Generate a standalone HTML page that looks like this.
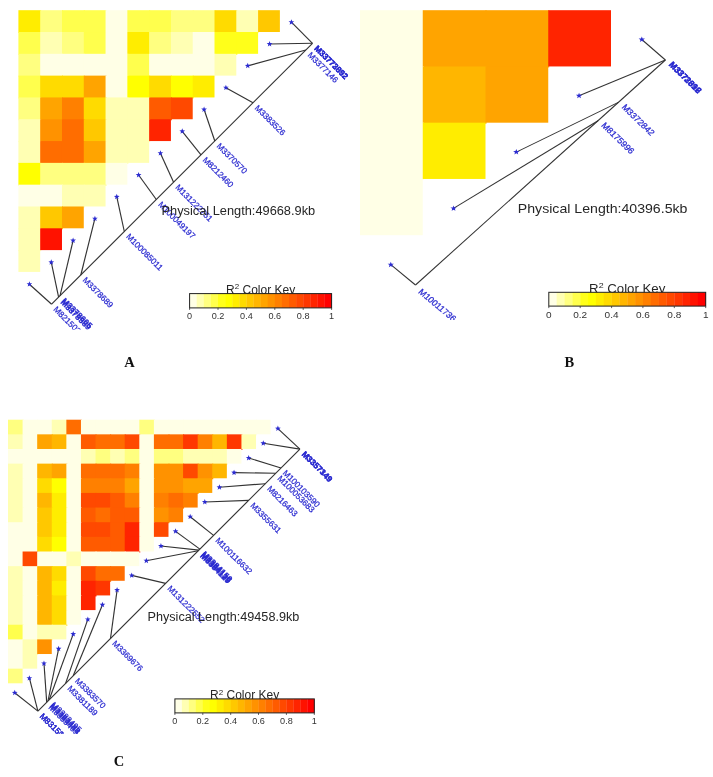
<!DOCTYPE html>
<html><head><meta charset="utf-8"><title>LD heatmaps</title>
<style>
html,body{margin:0;padding:0;background:#fff;}
body{width:713px;height:777px;overflow:hidden;}
svg{display:block;font-family:"Liberation Sans",sans-serif;}
</style></head><body>
<svg width="713" height="777" viewBox="0 0 713 777">
<defs>
<clipPath id="clipA"><rect x="0" y="0" width="356" height="329.5"/></clipPath>
<clipPath id="clipB"><rect x="356" y="0" width="357" height="320"/></clipPath>
<clipPath id="clipC"><rect x="0" y="400" width="356" height="334"/></clipPath>
</defs>
<rect width="713" height="777" fill="#fff"/>
<g>
<g><rect x="18.40" y="10.20" width="22.79" height="22.81" fill="#FFED00"/>
<rect x="40.19" y="10.20" width="22.79" height="22.81" fill="#FFFF80"/>
<rect x="61.98" y="10.20" width="22.79" height="22.81" fill="#FFFF4D"/>
<rect x="83.77" y="10.20" width="22.79" height="22.81" fill="#FFFF4D"/>
<rect x="105.56" y="10.20" width="22.79" height="22.81" fill="#FFFFE6"/>
<rect x="127.35" y="10.20" width="22.79" height="22.81" fill="#FFFF4D"/>
<rect x="149.14" y="10.20" width="22.79" height="22.81" fill="#FFFF4D"/>
<rect x="170.93" y="10.20" width="22.79" height="22.81" fill="#FFFF80"/>
<rect x="192.72" y="10.20" width="22.79" height="22.81" fill="#FFFF80"/>
<rect x="214.51" y="10.20" width="22.79" height="22.81" fill="#FFDB00"/>
<rect x="236.30" y="10.20" width="22.79" height="22.81" fill="#FFFFB3"/>
<rect x="258.09" y="10.20" width="21.79" height="21.81" fill="#FFC800"/>
<rect x="18.40" y="32.01" width="22.79" height="22.81" fill="#FFFF4D"/>
<rect x="40.19" y="32.01" width="22.79" height="22.81" fill="#FFFFB3"/>
<rect x="61.98" y="32.01" width="22.79" height="22.81" fill="#FFFF80"/>
<rect x="83.77" y="32.01" width="22.79" height="22.81" fill="#FFFF4D"/>
<rect x="105.56" y="32.01" width="22.79" height="22.81" fill="#FFFFE6"/>
<rect x="127.35" y="32.01" width="22.79" height="22.81" fill="#FFED00"/>
<rect x="149.14" y="32.01" width="22.79" height="22.81" fill="#FFFF80"/>
<rect x="170.93" y="32.01" width="22.79" height="22.81" fill="#FFFFB3"/>
<rect x="192.72" y="32.01" width="22.79" height="22.81" fill="#FFFFE6"/>
<rect x="214.51" y="32.01" width="22.79" height="22.81" fill="#FFFF1A"/>
<rect x="236.30" y="32.01" width="21.79" height="21.81" fill="#FFFF1A"/>
<rect x="18.40" y="53.82" width="22.79" height="22.81" fill="#FFFF80"/>
<rect x="40.19" y="53.82" width="22.79" height="22.81" fill="#FFFFE6"/>
<rect x="61.98" y="53.82" width="22.79" height="22.81" fill="#FFFFE6"/>
<rect x="83.77" y="53.82" width="22.79" height="22.81" fill="#FFFFE6"/>
<rect x="105.56" y="53.82" width="22.79" height="22.81" fill="#FFFFE6"/>
<rect x="127.35" y="53.82" width="22.79" height="22.81" fill="#FFFF4D"/>
<rect x="149.14" y="53.82" width="22.79" height="22.81" fill="#FFFFE6"/>
<rect x="170.93" y="53.82" width="22.79" height="22.81" fill="#FFFFE6"/>
<rect x="192.72" y="53.82" width="22.79" height="22.81" fill="#FFFFE6"/>
<rect x="214.51" y="53.82" width="21.79" height="21.81" fill="#FFFFB3"/>
<rect x="18.40" y="75.63" width="22.79" height="22.81" fill="#FFFF4D"/>
<rect x="40.19" y="75.63" width="22.79" height="22.81" fill="#FFDB00"/>
<rect x="61.98" y="75.63" width="22.79" height="22.81" fill="#FFDB00"/>
<rect x="83.77" y="75.63" width="22.79" height="22.81" fill="#FFA400"/>
<rect x="105.56" y="75.63" width="22.79" height="22.81" fill="#FFFFE6"/>
<rect x="127.35" y="75.63" width="22.79" height="22.81" fill="#FFFF00"/>
<rect x="149.14" y="75.63" width="22.79" height="22.81" fill="#FFDB00"/>
<rect x="170.93" y="75.63" width="22.79" height="22.81" fill="#FFFF00"/>
<rect x="192.72" y="75.63" width="21.79" height="21.81" fill="#FFED00"/>
<rect x="18.40" y="97.44" width="22.79" height="22.81" fill="#FFFF80"/>
<rect x="40.19" y="97.44" width="22.79" height="22.81" fill="#FFA400"/>
<rect x="61.98" y="97.44" width="22.79" height="22.81" fill="#FF8000"/>
<rect x="83.77" y="97.44" width="22.79" height="22.81" fill="#FFDB00"/>
<rect x="105.56" y="97.44" width="22.79" height="22.81" fill="#FFFFB3"/>
<rect x="127.35" y="97.44" width="22.79" height="22.81" fill="#FFFFB3"/>
<rect x="149.14" y="97.44" width="22.79" height="22.81" fill="#FF5B00"/>
<rect x="170.93" y="97.44" width="21.79" height="21.81" fill="#FF4900"/>
<rect x="18.40" y="119.25" width="22.79" height="22.81" fill="#FFFFB3"/>
<rect x="40.19" y="119.25" width="22.79" height="22.81" fill="#FF9200"/>
<rect x="61.98" y="119.25" width="22.79" height="22.81" fill="#FF6D00"/>
<rect x="83.77" y="119.25" width="22.79" height="22.81" fill="#FFC800"/>
<rect x="105.56" y="119.25" width="22.79" height="22.81" fill="#FFFFB3"/>
<rect x="127.35" y="119.25" width="22.79" height="22.81" fill="#FFFFB3"/>
<rect x="149.14" y="119.25" width="21.79" height="21.81" fill="#FF2400"/>
<rect x="18.40" y="141.06" width="22.79" height="22.81" fill="#FFFFB3"/>
<rect x="40.19" y="141.06" width="22.79" height="22.81" fill="#FF6D00"/>
<rect x="61.98" y="141.06" width="22.79" height="22.81" fill="#FF6D00"/>
<rect x="83.77" y="141.06" width="22.79" height="22.81" fill="#FFA400"/>
<rect x="105.56" y="141.06" width="22.79" height="22.81" fill="#FFFFB3"/>
<rect x="127.35" y="141.06" width="21.79" height="21.81" fill="#FFFFB3"/>
<rect x="18.40" y="162.87" width="22.79" height="22.81" fill="#FFFF00"/>
<rect x="40.19" y="162.87" width="22.79" height="22.81" fill="#FFFF80"/>
<rect x="61.98" y="162.87" width="22.79" height="22.81" fill="#FFFF80"/>
<rect x="83.77" y="162.87" width="22.79" height="22.81" fill="#FFFF80"/>
<rect x="105.56" y="162.87" width="21.79" height="21.81" fill="#FFFFE6"/>
<rect x="18.40" y="184.68" width="22.79" height="22.81" fill="#FFFFE6"/>
<rect x="40.19" y="184.68" width="22.79" height="22.81" fill="#FFFFE6"/>
<rect x="61.98" y="184.68" width="22.79" height="22.81" fill="#FFFFB3"/>
<rect x="83.77" y="184.68" width="21.79" height="21.81" fill="#FFFFB3"/>
<rect x="18.40" y="206.49" width="22.79" height="22.81" fill="#FFFFB3"/>
<rect x="40.19" y="206.49" width="22.79" height="22.81" fill="#FFC800"/>
<rect x="61.98" y="206.49" width="21.79" height="21.81" fill="#FFA400"/>
<rect x="18.40" y="228.30" width="22.79" height="22.81" fill="#FFFFB3"/>
<rect x="40.19" y="228.30" width="21.79" height="21.81" fill="#FF1200"/>
<rect x="18.40" y="250.11" width="21.79" height="21.81" fill="#FFFFB3"/></g>
</g>
<g clip-path="url(#clipA)">
<line x1="51.6" y1="304.2" x2="312.5" y2="43.3" stroke="#333" stroke-width="1.15"/>
<line x1="29.4" y1="284.2" x2="51.6" y2="304.2" stroke="#333" stroke-width="1.15"/>
<line x1="51.3" y1="262.3" x2="58.6" y2="297.2" stroke="#333" stroke-width="1.15"/>
<line x1="73.1" y1="240.5" x2="60.0" y2="295.8" stroke="#333" stroke-width="1.15"/>
<line x1="94.9" y1="218.7" x2="80.8" y2="275.0" stroke="#333" stroke-width="1.15"/>
<line x1="116.8" y1="196.8" x2="124.3" y2="231.5" stroke="#333" stroke-width="1.15"/>
<line x1="138.6" y1="175.0" x2="156.3" y2="199.5" stroke="#333" stroke-width="1.15"/>
<line x1="160.4" y1="153.2" x2="173.6" y2="182.2" stroke="#333" stroke-width="1.15"/>
<line x1="182.2" y1="131.3" x2="201.0" y2="154.8" stroke="#333" stroke-width="1.15"/>
<line x1="204.1" y1="109.5" x2="214.8" y2="141.0" stroke="#333" stroke-width="1.15"/>
<line x1="225.9" y1="87.7" x2="253.0" y2="102.8" stroke="#333" stroke-width="1.15"/>
<line x1="247.7" y1="65.9" x2="305.8" y2="50.0" stroke="#333" stroke-width="1.15"/>
<line x1="269.6" y1="44.0" x2="312.5" y2="43.3" stroke="#333" stroke-width="1.15"/>
<line x1="291.4" y1="22.2" x2="312.5" y2="43.3" stroke="#333" stroke-width="1.15"/>
<polygon points="29.44,281.16 30.18,283.14 32.29,283.23 30.64,284.55 31.20,286.59 29.44,285.42 27.68,286.59 28.24,284.55 26.59,283.23 28.70,283.14" fill="#2b2bd0"/>
<polygon points="51.27,259.33 52.01,261.31 54.12,261.40 52.47,262.72 53.03,264.76 51.27,263.59 49.51,264.76 50.07,262.72 48.42,261.40 50.53,261.31" fill="#2b2bd0"/>
<polygon points="73.10,237.50 73.84,239.48 75.95,239.57 74.30,240.89 74.86,242.93 73.10,241.76 71.34,242.93 71.90,240.89 70.25,239.57 72.36,239.48" fill="#2b2bd0"/>
<polygon points="94.93,215.67 95.67,217.65 97.78,217.74 96.13,219.06 96.69,221.10 94.93,219.93 93.17,221.10 93.73,219.06 92.08,217.74 94.19,217.65" fill="#2b2bd0"/>
<polygon points="116.76,193.84 117.50,195.82 119.61,195.91 117.96,197.23 118.52,199.27 116.76,198.10 115.00,199.27 115.56,197.23 113.91,195.91 116.02,195.82" fill="#2b2bd0"/>
<polygon points="138.59,172.01 139.33,173.99 141.44,174.08 139.79,175.40 140.35,177.44 138.59,176.27 136.83,177.44 137.39,175.40 135.74,174.08 137.85,173.99" fill="#2b2bd0"/>
<polygon points="160.42,150.18 161.16,152.16 163.27,152.25 161.62,153.57 162.18,155.61 160.42,154.44 158.66,155.61 159.22,153.57 157.57,152.25 159.68,152.16" fill="#2b2bd0"/>
<polygon points="182.25,128.35 182.99,130.33 185.10,130.42 183.45,131.74 184.01,133.78 182.25,132.61 180.49,133.78 181.05,131.74 179.40,130.42 181.51,130.33" fill="#2b2bd0"/>
<polygon points="204.08,106.52 204.82,108.50 206.93,108.59 205.28,109.91 205.84,111.95 204.08,110.78 202.32,111.95 202.88,109.91 201.23,108.59 203.34,108.50" fill="#2b2bd0"/>
<polygon points="225.91,84.69 226.65,86.67 228.76,86.76 227.11,88.08 227.67,90.12 225.91,88.95 224.15,90.12 224.71,88.08 223.06,86.76 225.17,86.67" fill="#2b2bd0"/>
<polygon points="247.74,62.86 248.48,64.84 250.59,64.93 248.94,66.25 249.50,68.29 247.74,67.12 245.98,68.29 246.54,66.25 244.89,64.93 247.00,64.84" fill="#2b2bd0"/>
<polygon points="269.57,41.03 270.31,43.01 272.42,43.10 270.77,44.42 271.33,46.46 269.57,45.29 267.81,46.46 268.37,44.42 266.72,43.10 268.83,43.01" fill="#2b2bd0"/>
<polygon points="291.40,19.20 292.14,21.18 294.25,21.27 292.60,22.59 293.16,24.63 291.40,23.46 289.64,24.63 290.20,22.59 288.55,21.27 290.66,21.18" fill="#2b2bd0"/>
<text transform="translate(51.6,304.2) scale(1.000,1) rotate(45)" x="4.9" y="3.0" font-size="8.3" fill="#2b2bd0" stroke="#2b2bd0" stroke-width="0.25">M8215032</text>
<text transform="translate(58.6,297.2) scale(1.000,1) rotate(45)" x="4.9" y="3.0" font-size="8.3" fill="#2b2bd0" stroke="#2b2bd0" stroke-width="0.25" font-weight="bold">M3378589</text>
<text transform="translate(60.0,295.8) scale(1.000,1) rotate(45)" x="4.9" y="3.0" font-size="8.3" fill="#2b2bd0" stroke="#2b2bd0" stroke-width="0.25" font-weight="bold">M3378605</text>
<text transform="translate(80.8,275.0) scale(1.000,1) rotate(45)" x="4.9" y="3.0" font-size="8.3" fill="#2b2bd0" stroke="#2b2bd0" stroke-width="0.25">M3378689</text>
<text transform="translate(124.3,231.5) scale(1.000,1) rotate(45)" x="4.9" y="3.0" font-size="8.3" fill="#2b2bd0" stroke="#2b2bd0" stroke-width="0.25">M100085011</text>
<text transform="translate(156.3,199.5) scale(1.000,1) rotate(45)" x="4.9" y="3.0" font-size="8.3" fill="#2b2bd0" stroke="#2b2bd0" stroke-width="0.25">M100049197</text>
<text transform="translate(173.6,182.2) scale(1.000,1) rotate(45)" x="4.9" y="3.0" font-size="8.3" fill="#2b2bd0" stroke="#2b2bd0" stroke-width="0.25">M131222751</text>
<text transform="translate(201.0,154.8) scale(1.000,1) rotate(45)" x="4.9" y="3.0" font-size="8.3" fill="#2b2bd0" stroke="#2b2bd0" stroke-width="0.25">M8212460</text>
<text transform="translate(214.8,141.0) scale(1.000,1) rotate(45)" x="4.9" y="3.0" font-size="8.3" fill="#2b2bd0" stroke="#2b2bd0" stroke-width="0.25">M3370570</text>
<text transform="translate(253.0,102.8) scale(1.000,1) rotate(45)" x="4.9" y="3.0" font-size="8.3" fill="#2b2bd0" stroke="#2b2bd0" stroke-width="0.25">M3383526</text>
<text transform="translate(305.8,50.0) scale(1.000,1) rotate(45)" x="4.9" y="3.0" font-size="8.3" fill="#2b2bd0" stroke="#2b2bd0" stroke-width="0.25">M3377146</text>
<text transform="translate(312.5,43.3) scale(1.000,1) rotate(45)" x="4.9" y="3.0" font-size="8.3" fill="#2b2bd0" stroke="#2b2bd0" stroke-width="0.25" font-weight="bold">M33772892</text>
<text transform="translate(312.5,43.3) scale(1.000,1) rotate(45)" x="4.9" y="3.0" font-size="8.3" fill="#2b2bd0" stroke="#2b2bd0" stroke-width="0.25" font-weight="bold">M33773052</text>
</g>
<text x="161.5" y="214.9" font-size="12.8" fill="#262626">Physical Length:49668.9kb</text>
<text transform="translate(260.6,293.9) scale(1.000,1)" text-anchor="middle" font-size="12" fill="#262626">R<tspan font-size="8" dy="-4.5">2</tspan><tspan dy="4.5"> Color Key</tspan></text>
<rect x="189.60" y="293.60" width="7.40" height="14.30" fill="#FFFFE6"/>
<rect x="196.70" y="293.60" width="7.40" height="14.30" fill="#FFFFB3"/>
<rect x="203.80" y="293.60" width="7.40" height="14.30" fill="#FFFF80"/>
<rect x="210.90" y="293.60" width="7.40" height="14.30" fill="#FFFF4D"/>
<rect x="218.00" y="293.60" width="7.40" height="14.30" fill="#FFFF1A"/>
<rect x="225.10" y="293.60" width="7.40" height="14.30" fill="#FFFF00"/>
<rect x="232.20" y="293.60" width="7.40" height="14.30" fill="#FFED00"/>
<rect x="239.30" y="293.60" width="7.40" height="14.30" fill="#FFDB00"/>
<rect x="246.40" y="293.60" width="7.40" height="14.30" fill="#FFC800"/>
<rect x="253.50" y="293.60" width="7.40" height="14.30" fill="#FFB600"/>
<rect x="260.60" y="293.60" width="7.40" height="14.30" fill="#FFA400"/>
<rect x="267.70" y="293.60" width="7.40" height="14.30" fill="#FF9200"/>
<rect x="274.80" y="293.60" width="7.40" height="14.30" fill="#FF8000"/>
<rect x="281.90" y="293.60" width="7.40" height="14.30" fill="#FF6D00"/>
<rect x="289.00" y="293.60" width="7.40" height="14.30" fill="#FF5B00"/>
<rect x="296.10" y="293.60" width="7.40" height="14.30" fill="#FF4900"/>
<rect x="303.20" y="293.60" width="7.40" height="14.30" fill="#FF3700"/>
<rect x="310.30" y="293.60" width="7.40" height="14.30" fill="#FF2400"/>
<rect x="317.40" y="293.60" width="7.40" height="14.30" fill="#FF1200"/>
<rect x="324.50" y="293.60" width="7.40" height="14.30" fill="#FF0000"/>
<rect x="189.60" y="293.60" width="142.00" height="14.30" fill="none" stroke="#222" stroke-width="1"/>
<line x1="189.6" y1="307.9" x2="189.6" y2="309.9" stroke="#333" stroke-width="0.8"/>
<text transform="translate(189.6,319.3) scale(1.000,1)" text-anchor="middle" font-size="9.1" fill="#333">0</text>
<line x1="218.0" y1="307.9" x2="218.0" y2="309.9" stroke="#333" stroke-width="0.8"/>
<text transform="translate(218.0,319.3) scale(1.000,1)" text-anchor="middle" font-size="9.1" fill="#333">0.2</text>
<line x1="246.4" y1="307.9" x2="246.4" y2="309.9" stroke="#333" stroke-width="0.8"/>
<text transform="translate(246.4,319.3) scale(1.000,1)" text-anchor="middle" font-size="9.1" fill="#333">0.4</text>
<line x1="274.8" y1="307.9" x2="274.8" y2="309.9" stroke="#333" stroke-width="0.8"/>
<text transform="translate(274.8,319.3) scale(1.000,1)" text-anchor="middle" font-size="9.1" fill="#333">0.6</text>
<line x1="303.2" y1="307.9" x2="303.2" y2="309.9" stroke="#333" stroke-width="0.8"/>
<text transform="translate(303.2,319.3) scale(1.000,1)" text-anchor="middle" font-size="9.1" fill="#333">0.8</text>
<line x1="331.6" y1="307.9" x2="331.6" y2="309.9" stroke="#333" stroke-width="0.8"/>
<text transform="translate(331.6,319.3) scale(1.000,1)" text-anchor="middle" font-size="9.1" fill="#333">1</text>
<text x="129.5" y="366.7" text-anchor="middle" font-family="'Liberation Serif',serif" font-weight="bold" font-size="14.5" fill="#111">A</text>
<g><rect x="360.00" y="10.20" width="63.75" height="57.25" fill="#FFFFE6"/>
<rect x="422.75" y="10.20" width="63.75" height="57.25" fill="#FFA400"/>
<rect x="485.50" y="10.20" width="63.75" height="57.25" fill="#FFA400"/>
<rect x="548.25" y="10.20" width="62.75" height="56.25" fill="#FF2400"/>
<rect x="360.00" y="66.45" width="63.75" height="57.25" fill="#FFFFE6"/>
<rect x="422.75" y="66.45" width="63.75" height="57.25" fill="#FFB600"/>
<rect x="485.50" y="66.45" width="62.75" height="56.25" fill="#FFA400"/>
<rect x="360.00" y="122.70" width="63.75" height="57.25" fill="#FFFFE6"/>
<rect x="422.75" y="122.70" width="62.75" height="56.25" fill="#FFED00"/>
<rect x="360.00" y="178.95" width="62.75" height="56.25" fill="#FFFFE6"/></g>
<g clip-path="url(#clipB)">
<line x1="415.5" y1="285.0" x2="665.4" y2="60.0" stroke="#333" stroke-width="1.05"/>
<line x1="390.8" y1="264.7" x2="415.5" y2="285.0" stroke="#333" stroke-width="1.05"/>
<line x1="453.5" y1="208.4" x2="598.0" y2="120.7" stroke="#333" stroke-width="1.05"/>
<line x1="516.3" y1="152.1" x2="618.3" y2="102.4" stroke="#333" stroke-width="1.05"/>
<line x1="579.0" y1="95.8" x2="665.4" y2="60.0" stroke="#333" stroke-width="1.05"/>
<line x1="641.8" y1="39.5" x2="665.4" y2="60.0" stroke="#333" stroke-width="1.05"/>
<polygon points="390.80,261.70 391.61,263.68 393.94,263.77 392.12,265.09 392.74,267.13 390.80,265.96 388.86,267.13 389.48,265.09 387.66,263.77 389.99,263.68" fill="#2b2bd0"/>
<polygon points="453.55,205.40 454.36,207.38 456.69,207.47 454.87,208.79 455.49,210.83 453.55,209.66 451.61,210.83 452.23,208.79 450.41,207.47 452.74,207.38" fill="#2b2bd0"/>
<polygon points="516.30,149.10 517.11,151.08 519.44,151.17 517.62,152.49 518.24,154.53 516.30,153.36 514.36,154.53 514.98,152.49 513.16,151.17 515.49,151.08" fill="#2b2bd0"/>
<polygon points="579.05,92.80 579.86,94.78 582.19,94.87 580.37,96.19 580.99,98.23 579.05,97.06 577.11,98.23 577.73,96.19 575.91,94.87 578.24,94.78" fill="#2b2bd0"/>
<polygon points="641.80,36.50 642.61,38.48 644.94,38.57 643.12,39.89 643.74,41.93 641.80,40.76 639.86,41.93 640.48,39.89 638.66,38.57 640.99,38.48" fill="#2b2bd0"/>
<text transform="translate(415.5,285.0) scale(1.105,1) rotate(43)" x="6.6" y="4.0" font-size="8.3" fill="#2b2bd0" stroke="#2b2bd0" stroke-width="0.25">M10011736</text>
<text transform="translate(598.0,120.7) scale(1.105,1) rotate(47)" x="5.5" y="1.6" font-size="8.3" fill="#2b2bd0" stroke="#2b2bd0" stroke-width="0.25">M8175996</text>
<text transform="translate(618.3,102.4) scale(1.105,1) rotate(47)" x="5.5" y="1.6" font-size="8.3" fill="#2b2bd0" stroke="#2b2bd0" stroke-width="0.25">M3372842</text>
<text transform="translate(665.4,60.0) scale(1.105,1) rotate(47)" x="5.5" y="1.6" font-size="8.3" fill="#2b2bd0" stroke="#2b2bd0" stroke-width="0.25" font-weight="bold">M3372892</text>
<text transform="translate(665.4,60.0) scale(1.105,1) rotate(47)" x="5.5" y="1.6" font-size="8.3" fill="#2b2bd0" stroke="#2b2bd0" stroke-width="0.25" font-weight="bold">M3373016</text>
</g>
<text transform="translate(517.8,213.2) scale(1.105,1)" font-size="12.8" fill="#262626">Physical Length:40396.5kb</text>
<text transform="translate(627.2,292.6) scale(1.105,1)" text-anchor="middle" font-size="12" fill="#262626">R<tspan font-size="8" dy="-4.5">2</tspan><tspan dy="4.5"> Color Key</tspan></text>
<rect x="548.80" y="292.30" width="8.15" height="13.80" fill="#FFFFE6"/>
<rect x="556.64" y="292.30" width="8.15" height="13.80" fill="#FFFFB3"/>
<rect x="564.49" y="292.30" width="8.15" height="13.80" fill="#FFFF80"/>
<rect x="572.33" y="292.30" width="8.15" height="13.80" fill="#FFFF4D"/>
<rect x="580.18" y="292.30" width="8.15" height="13.80" fill="#FFFF1A"/>
<rect x="588.02" y="292.30" width="8.15" height="13.80" fill="#FFFF00"/>
<rect x="595.87" y="292.30" width="8.15" height="13.80" fill="#FFED00"/>
<rect x="603.71" y="292.30" width="8.15" height="13.80" fill="#FFDB00"/>
<rect x="611.56" y="292.30" width="8.15" height="13.80" fill="#FFC800"/>
<rect x="619.40" y="292.30" width="8.15" height="13.80" fill="#FFB600"/>
<rect x="627.25" y="292.30" width="8.15" height="13.80" fill="#FFA400"/>
<rect x="635.09" y="292.30" width="8.15" height="13.80" fill="#FF9200"/>
<rect x="642.94" y="292.30" width="8.15" height="13.80" fill="#FF8000"/>
<rect x="650.78" y="292.30" width="8.15" height="13.80" fill="#FF6D00"/>
<rect x="658.63" y="292.30" width="8.15" height="13.80" fill="#FF5B00"/>
<rect x="666.47" y="292.30" width="8.15" height="13.80" fill="#FF4900"/>
<rect x="674.32" y="292.30" width="8.15" height="13.80" fill="#FF3700"/>
<rect x="682.16" y="292.30" width="8.15" height="13.80" fill="#FF2400"/>
<rect x="690.01" y="292.30" width="8.15" height="13.80" fill="#FF1200"/>
<rect x="697.86" y="292.30" width="8.15" height="13.80" fill="#FF0000"/>
<rect x="548.80" y="292.30" width="156.90" height="13.80" fill="none" stroke="#222" stroke-width="1"/>
<line x1="548.8" y1="306.1" x2="548.8" y2="308.1" stroke="#333" stroke-width="0.8"/>
<text transform="translate(548.8,317.5) scale(1.105,1)" text-anchor="middle" font-size="9.1" fill="#333">0</text>
<line x1="580.2" y1="306.1" x2="580.2" y2="308.1" stroke="#333" stroke-width="0.8"/>
<text transform="translate(580.2,317.5) scale(1.105,1)" text-anchor="middle" font-size="9.1" fill="#333">0.2</text>
<line x1="611.6" y1="306.1" x2="611.6" y2="308.1" stroke="#333" stroke-width="0.8"/>
<text transform="translate(611.6,317.5) scale(1.105,1)" text-anchor="middle" font-size="9.1" fill="#333">0.4</text>
<line x1="642.9" y1="306.1" x2="642.9" y2="308.1" stroke="#333" stroke-width="0.8"/>
<text transform="translate(642.9,317.5) scale(1.105,1)" text-anchor="middle" font-size="9.1" fill="#333">0.6</text>
<line x1="674.3" y1="306.1" x2="674.3" y2="308.1" stroke="#333" stroke-width="0.8"/>
<text transform="translate(674.3,317.5) scale(1.105,1)" text-anchor="middle" font-size="9.1" fill="#333">0.8</text>
<line x1="705.7" y1="306.1" x2="705.7" y2="308.1" stroke="#333" stroke-width="0.8"/>
<text transform="translate(705.7,317.5) scale(1.105,1)" text-anchor="middle" font-size="9.1" fill="#333">1</text>
<text x="569.3" y="366.7" text-anchor="middle" font-family="'Liberation Serif',serif" font-weight="bold" font-size="14.5" fill="#111">B</text>
<g><rect x="8.00" y="419.70" width="15.59" height="15.64" fill="#FFFF80"/>
<rect x="22.59" y="419.70" width="15.59" height="15.64" fill="#FFFFE6"/>
<rect x="37.18" y="419.70" width="15.59" height="15.64" fill="#FFFFE6"/>
<rect x="51.77" y="419.70" width="15.59" height="15.64" fill="#FFFFB3"/>
<rect x="66.36" y="419.70" width="15.59" height="15.64" fill="#FF6D00"/>
<rect x="80.95" y="419.70" width="15.59" height="15.64" fill="#FFFFE6"/>
<rect x="95.54" y="419.70" width="15.59" height="15.64" fill="#FFFFE6"/>
<rect x="110.13" y="419.70" width="15.59" height="15.64" fill="#FFFFE6"/>
<rect x="124.72" y="419.70" width="15.59" height="15.64" fill="#FFFFE6"/>
<rect x="139.31" y="419.70" width="15.59" height="15.64" fill="#FFFF80"/>
<rect x="153.90" y="419.70" width="15.59" height="15.64" fill="#FFFFE6"/>
<rect x="168.49" y="419.70" width="15.59" height="15.64" fill="#FFFFE6"/>
<rect x="183.08" y="419.70" width="15.59" height="15.64" fill="#FFFFE6"/>
<rect x="197.67" y="419.70" width="15.59" height="15.64" fill="#FFFFE6"/>
<rect x="212.26" y="419.70" width="15.59" height="15.64" fill="#FFFFE6"/>
<rect x="226.85" y="419.70" width="15.59" height="15.64" fill="#FFFFE6"/>
<rect x="241.44" y="419.70" width="15.59" height="15.64" fill="#FFFFE6"/>
<rect x="256.03" y="419.70" width="14.59" height="14.64" fill="#FFFFE6"/>
<rect x="8.00" y="434.34" width="15.59" height="15.64" fill="#FFFFB3"/>
<rect x="22.59" y="434.34" width="15.59" height="15.64" fill="#FFFFE6"/>
<rect x="37.18" y="434.34" width="15.59" height="15.64" fill="#FFA400"/>
<rect x="51.77" y="434.34" width="15.59" height="15.64" fill="#FFB600"/>
<rect x="66.36" y="434.34" width="15.59" height="15.64" fill="#FFFFE6"/>
<rect x="80.95" y="434.34" width="15.59" height="15.64" fill="#FF5B00"/>
<rect x="95.54" y="434.34" width="15.59" height="15.64" fill="#FF6D00"/>
<rect x="110.13" y="434.34" width="15.59" height="15.64" fill="#FF6D00"/>
<rect x="124.72" y="434.34" width="15.59" height="15.64" fill="#FF4900"/>
<rect x="139.31" y="434.34" width="15.59" height="15.64" fill="#FFFFE6"/>
<rect x="153.90" y="434.34" width="15.59" height="15.64" fill="#FF6D00"/>
<rect x="168.49" y="434.34" width="15.59" height="15.64" fill="#FF6D00"/>
<rect x="183.08" y="434.34" width="15.59" height="15.64" fill="#FF3700"/>
<rect x="197.67" y="434.34" width="15.59" height="15.64" fill="#FF8000"/>
<rect x="212.26" y="434.34" width="15.59" height="15.64" fill="#FFB600"/>
<rect x="226.85" y="434.34" width="15.59" height="15.64" fill="#FF3700"/>
<rect x="241.44" y="434.34" width="14.59" height="14.64" fill="#FFFFB3"/>
<rect x="8.00" y="448.99" width="15.59" height="15.64" fill="#FFFFE6"/>
<rect x="22.59" y="448.99" width="15.59" height="15.64" fill="#FFFFE6"/>
<rect x="37.18" y="448.99" width="15.59" height="15.64" fill="#FFFFE6"/>
<rect x="51.77" y="448.99" width="15.59" height="15.64" fill="#FFFFE6"/>
<rect x="66.36" y="448.99" width="15.59" height="15.64" fill="#FFFFE6"/>
<rect x="80.95" y="448.99" width="15.59" height="15.64" fill="#FFFFB3"/>
<rect x="95.54" y="448.99" width="15.59" height="15.64" fill="#FFFF80"/>
<rect x="110.13" y="448.99" width="15.59" height="15.64" fill="#FFFFB3"/>
<rect x="124.72" y="448.99" width="15.59" height="15.64" fill="#FFFF80"/>
<rect x="139.31" y="448.99" width="15.59" height="15.64" fill="#FFFFE6"/>
<rect x="153.90" y="448.99" width="15.59" height="15.64" fill="#FFFF80"/>
<rect x="168.49" y="448.99" width="15.59" height="15.64" fill="#FFFF80"/>
<rect x="183.08" y="448.99" width="15.59" height="15.64" fill="#FFFFB3"/>
<rect x="197.67" y="448.99" width="15.59" height="15.64" fill="#FFFFB3"/>
<rect x="212.26" y="448.99" width="15.59" height="15.64" fill="#FFFFB3"/>
<rect x="226.85" y="448.99" width="14.59" height="14.64" fill="#FFFFE6"/>
<rect x="8.00" y="463.63" width="15.59" height="15.64" fill="#FFFFB3"/>
<rect x="22.59" y="463.63" width="15.59" height="15.64" fill="#FFFFE6"/>
<rect x="37.18" y="463.63" width="15.59" height="15.64" fill="#FFB600"/>
<rect x="51.77" y="463.63" width="15.59" height="15.64" fill="#FFA400"/>
<rect x="66.36" y="463.63" width="15.59" height="15.64" fill="#FFFFE6"/>
<rect x="80.95" y="463.63" width="15.59" height="15.64" fill="#FF6D00"/>
<rect x="95.54" y="463.63" width="15.59" height="15.64" fill="#FF6D00"/>
<rect x="110.13" y="463.63" width="15.59" height="15.64" fill="#FF6D00"/>
<rect x="124.72" y="463.63" width="15.59" height="15.64" fill="#FF8000"/>
<rect x="139.31" y="463.63" width="15.59" height="15.64" fill="#FFFFE6"/>
<rect x="153.90" y="463.63" width="15.59" height="15.64" fill="#FF9200"/>
<rect x="168.49" y="463.63" width="15.59" height="15.64" fill="#FF9200"/>
<rect x="183.08" y="463.63" width="15.59" height="15.64" fill="#FF4900"/>
<rect x="197.67" y="463.63" width="15.59" height="15.64" fill="#FF9200"/>
<rect x="212.26" y="463.63" width="14.59" height="14.64" fill="#FFB600"/>
<rect x="8.00" y="478.28" width="15.59" height="15.64" fill="#FFFFB3"/>
<rect x="22.59" y="478.28" width="15.59" height="15.64" fill="#FFFFE6"/>
<rect x="37.18" y="478.28" width="15.59" height="15.64" fill="#FFDB00"/>
<rect x="51.77" y="478.28" width="15.59" height="15.64" fill="#FFFF00"/>
<rect x="66.36" y="478.28" width="15.59" height="15.64" fill="#FFFFE6"/>
<rect x="80.95" y="478.28" width="15.59" height="15.64" fill="#FF8000"/>
<rect x="95.54" y="478.28" width="15.59" height="15.64" fill="#FF8000"/>
<rect x="110.13" y="478.28" width="15.59" height="15.64" fill="#FF8000"/>
<rect x="124.72" y="478.28" width="15.59" height="15.64" fill="#FFA400"/>
<rect x="139.31" y="478.28" width="15.59" height="15.64" fill="#FFFFE6"/>
<rect x="153.90" y="478.28" width="15.59" height="15.64" fill="#FF9200"/>
<rect x="168.49" y="478.28" width="15.59" height="15.64" fill="#FF9200"/>
<rect x="183.08" y="478.28" width="15.59" height="15.64" fill="#FFA400"/>
<rect x="197.67" y="478.28" width="14.59" height="14.64" fill="#FFA400"/>
<rect x="8.00" y="492.92" width="15.59" height="15.64" fill="#FFFFB3"/>
<rect x="22.59" y="492.92" width="15.59" height="15.64" fill="#FFFFE6"/>
<rect x="37.18" y="492.92" width="15.59" height="15.64" fill="#FFB600"/>
<rect x="51.77" y="492.92" width="15.59" height="15.64" fill="#FFED00"/>
<rect x="66.36" y="492.92" width="15.59" height="15.64" fill="#FFFFE6"/>
<rect x="80.95" y="492.92" width="15.59" height="15.64" fill="#FF4900"/>
<rect x="95.54" y="492.92" width="15.59" height="15.64" fill="#FF4900"/>
<rect x="110.13" y="492.92" width="15.59" height="15.64" fill="#FF5B00"/>
<rect x="124.72" y="492.92" width="15.59" height="15.64" fill="#FF8000"/>
<rect x="139.31" y="492.92" width="15.59" height="15.64" fill="#FFFFE6"/>
<rect x="153.90" y="492.92" width="15.59" height="15.64" fill="#FF8000"/>
<rect x="168.49" y="492.92" width="15.59" height="15.64" fill="#FF6D00"/>
<rect x="183.08" y="492.92" width="14.59" height="14.64" fill="#FF8000"/>
<rect x="8.00" y="507.57" width="15.59" height="15.64" fill="#FFFFB3"/>
<rect x="22.59" y="507.57" width="15.59" height="15.64" fill="#FFFFE6"/>
<rect x="37.18" y="507.57" width="15.59" height="15.64" fill="#FFC800"/>
<rect x="51.77" y="507.57" width="15.59" height="15.64" fill="#FFED00"/>
<rect x="66.36" y="507.57" width="15.59" height="15.64" fill="#FFFFE6"/>
<rect x="80.95" y="507.57" width="15.59" height="15.64" fill="#FF5B00"/>
<rect x="95.54" y="507.57" width="15.59" height="15.64" fill="#FF6D00"/>
<rect x="110.13" y="507.57" width="15.59" height="15.64" fill="#FF5B00"/>
<rect x="124.72" y="507.57" width="15.59" height="15.64" fill="#FF5B00"/>
<rect x="139.31" y="507.57" width="15.59" height="15.64" fill="#FFFFE6"/>
<rect x="153.90" y="507.57" width="15.59" height="15.64" fill="#FF9200"/>
<rect x="168.49" y="507.57" width="14.59" height="14.64" fill="#FF8000"/>
<rect x="8.00" y="522.22" width="15.59" height="15.64" fill="#FFFFE6"/>
<rect x="22.59" y="522.22" width="15.59" height="15.64" fill="#FFFFE6"/>
<rect x="37.18" y="522.22" width="15.59" height="15.64" fill="#FFC800"/>
<rect x="51.77" y="522.22" width="15.59" height="15.64" fill="#FFED00"/>
<rect x="66.36" y="522.22" width="15.59" height="15.64" fill="#FFFFE6"/>
<rect x="80.95" y="522.22" width="15.59" height="15.64" fill="#FF4900"/>
<rect x="95.54" y="522.22" width="15.59" height="15.64" fill="#FF4900"/>
<rect x="110.13" y="522.22" width="15.59" height="15.64" fill="#FF5B00"/>
<rect x="124.72" y="522.22" width="15.59" height="15.64" fill="#FF2400"/>
<rect x="139.31" y="522.22" width="15.59" height="15.64" fill="#FFFFE6"/>
<rect x="153.90" y="522.22" width="14.59" height="14.64" fill="#FF4900"/>
<rect x="8.00" y="536.86" width="15.59" height="15.64" fill="#FFFFE6"/>
<rect x="22.59" y="536.86" width="15.59" height="15.64" fill="#FFFFE6"/>
<rect x="37.18" y="536.86" width="15.59" height="15.64" fill="#FFDB00"/>
<rect x="51.77" y="536.86" width="15.59" height="15.64" fill="#FFFF00"/>
<rect x="66.36" y="536.86" width="15.59" height="15.64" fill="#FFFFE6"/>
<rect x="80.95" y="536.86" width="15.59" height="15.64" fill="#FF5B00"/>
<rect x="95.54" y="536.86" width="15.59" height="15.64" fill="#FF5B00"/>
<rect x="110.13" y="536.86" width="15.59" height="15.64" fill="#FF5B00"/>
<rect x="124.72" y="536.86" width="15.59" height="15.64" fill="#FF2400"/>
<rect x="139.31" y="536.86" width="14.59" height="14.64" fill="#FFFFE6"/>
<rect x="8.00" y="551.50" width="15.59" height="15.64" fill="#FFFFE6"/>
<rect x="22.59" y="551.50" width="15.59" height="15.64" fill="#FF4900"/>
<rect x="37.18" y="551.50" width="15.59" height="15.64" fill="#FFFFE6"/>
<rect x="51.77" y="551.50" width="15.59" height="15.64" fill="#FFFFE6"/>
<rect x="66.36" y="551.50" width="15.59" height="15.64" fill="#FFFFB3"/>
<rect x="80.95" y="551.50" width="15.59" height="15.64" fill="#FFFFE6"/>
<rect x="95.54" y="551.50" width="15.59" height="15.64" fill="#FFFFE6"/>
<rect x="110.13" y="551.50" width="15.59" height="15.64" fill="#FFFFE6"/>
<rect x="124.72" y="551.50" width="14.59" height="14.64" fill="#FFFFE6"/>
<rect x="8.00" y="566.15" width="15.59" height="15.64" fill="#FFFFB3"/>
<rect x="22.59" y="566.15" width="15.59" height="15.64" fill="#FFFFE6"/>
<rect x="37.18" y="566.15" width="15.59" height="15.64" fill="#FFB600"/>
<rect x="51.77" y="566.15" width="15.59" height="15.64" fill="#FFDB00"/>
<rect x="66.36" y="566.15" width="15.59" height="15.64" fill="#FFFFE6"/>
<rect x="80.95" y="566.15" width="15.59" height="15.64" fill="#FF4900"/>
<rect x="95.54" y="566.15" width="15.59" height="15.64" fill="#FF6D00"/>
<rect x="110.13" y="566.15" width="14.59" height="14.64" fill="#FF6D00"/>
<rect x="8.00" y="580.79" width="15.59" height="15.64" fill="#FFFFB3"/>
<rect x="22.59" y="580.79" width="15.59" height="15.64" fill="#FFFFE6"/>
<rect x="37.18" y="580.79" width="15.59" height="15.64" fill="#FFB600"/>
<rect x="51.77" y="580.79" width="15.59" height="15.64" fill="#FFED00"/>
<rect x="66.36" y="580.79" width="15.59" height="15.64" fill="#FFFFE6"/>
<rect x="80.95" y="580.79" width="15.59" height="15.64" fill="#FF2400"/>
<rect x="95.54" y="580.79" width="14.59" height="14.64" fill="#FF3700"/>
<rect x="8.00" y="595.44" width="15.59" height="15.64" fill="#FFFFB3"/>
<rect x="22.59" y="595.44" width="15.59" height="15.64" fill="#FFFFE6"/>
<rect x="37.18" y="595.44" width="15.59" height="15.64" fill="#FFB600"/>
<rect x="51.77" y="595.44" width="15.59" height="15.64" fill="#FFDB00"/>
<rect x="66.36" y="595.44" width="15.59" height="15.64" fill="#FFFFE6"/>
<rect x="80.95" y="595.44" width="14.59" height="14.64" fill="#FF2400"/>
<rect x="8.00" y="610.09" width="15.59" height="15.64" fill="#FFFFB3"/>
<rect x="22.59" y="610.09" width="15.59" height="15.64" fill="#FFFFE6"/>
<rect x="37.18" y="610.09" width="15.59" height="15.64" fill="#FFB600"/>
<rect x="51.77" y="610.09" width="15.59" height="15.64" fill="#FFDB00"/>
<rect x="66.36" y="610.09" width="14.59" height="14.64" fill="#FFFFE6"/>
<rect x="8.00" y="624.73" width="15.59" height="15.64" fill="#FFFF4D"/>
<rect x="22.59" y="624.73" width="15.59" height="15.64" fill="#FFFFE6"/>
<rect x="37.18" y="624.73" width="15.59" height="15.64" fill="#FFFFB3"/>
<rect x="51.77" y="624.73" width="14.59" height="14.64" fill="#FFFFB3"/>
<rect x="8.00" y="639.38" width="15.59" height="15.64" fill="#FFFFE6"/>
<rect x="22.59" y="639.38" width="15.59" height="15.64" fill="#FFFFB3"/>
<rect x="37.18" y="639.38" width="14.59" height="14.64" fill="#FF9200"/>
<rect x="8.00" y="654.02" width="15.59" height="15.64" fill="#FFFFE6"/>
<rect x="22.59" y="654.02" width="14.59" height="14.64" fill="#FFFFB3"/>
<rect x="8.00" y="668.66" width="14.59" height="14.64" fill="#FFFF80"/></g>
<g clip-path="url(#clipC)">
<line x1="37.9" y1="711.1" x2="299.9" y2="449.1" stroke="#333" stroke-width="1.15"/>
<line x1="14.7" y1="692.8" x2="37.9" y2="711.1" stroke="#333" stroke-width="1.15"/>
<line x1="29.4" y1="678.2" x2="37.9" y2="711.1" stroke="#333" stroke-width="1.15"/>
<line x1="44.0" y1="663.5" x2="46.7" y2="702.3" stroke="#333" stroke-width="1.15"/>
<line x1="58.6" y1="648.8" x2="48.0" y2="701.0" stroke="#333" stroke-width="1.15"/>
<line x1="73.2" y1="634.1" x2="49.2" y2="699.8" stroke="#333" stroke-width="1.15"/>
<line x1="87.8" y1="619.4" x2="65.6" y2="683.4" stroke="#333" stroke-width="1.15"/>
<line x1="102.5" y1="604.8" x2="73.2" y2="675.8" stroke="#333" stroke-width="1.15"/>
<line x1="117.1" y1="590.1" x2="110.5" y2="638.5" stroke="#333" stroke-width="1.15"/>
<line x1="131.7" y1="575.4" x2="165.6" y2="583.4" stroke="#333" stroke-width="1.15"/>
<line x1="146.3" y1="560.7" x2="198.2" y2="550.8" stroke="#333" stroke-width="1.15"/>
<line x1="160.9" y1="546.0" x2="198.9" y2="550.1" stroke="#333" stroke-width="1.15"/>
<line x1="175.6" y1="531.4" x2="199.9" y2="549.1" stroke="#333" stroke-width="1.15"/>
<line x1="190.2" y1="516.7" x2="213.6" y2="535.4" stroke="#333" stroke-width="1.15"/>
<line x1="204.8" y1="502.0" x2="248.6" y2="500.4" stroke="#333" stroke-width="1.15"/>
<line x1="219.4" y1="487.3" x2="265.3" y2="483.7" stroke="#333" stroke-width="1.15"/>
<line x1="234.0" y1="472.6" x2="275.7" y2="473.3" stroke="#333" stroke-width="1.15"/>
<line x1="248.7" y1="458.0" x2="281.0" y2="468.0" stroke="#333" stroke-width="1.15"/>
<line x1="263.3" y1="443.3" x2="299.9" y2="449.1" stroke="#333" stroke-width="1.15"/>
<line x1="277.9" y1="428.6" x2="299.9" y2="449.1" stroke="#333" stroke-width="1.15"/>
<polygon points="14.74,689.84 15.48,691.82 17.59,691.91 15.94,693.23 16.50,695.27 14.74,694.10 12.98,695.27 13.54,693.23 11.89,691.91 14.00,691.82" fill="#2b2bd0"/>
<polygon points="29.36,675.16 30.10,677.14 32.21,677.23 30.56,678.55 31.12,680.59 29.36,679.42 27.60,680.59 28.16,678.55 26.51,677.23 28.62,677.14" fill="#2b2bd0"/>
<polygon points="43.98,660.48 44.72,662.46 46.83,662.55 45.18,663.87 45.74,665.91 43.98,664.74 42.22,665.91 42.78,663.87 41.13,662.55 43.24,662.46" fill="#2b2bd0"/>
<polygon points="58.60,645.80 59.34,647.78 61.45,647.87 59.80,649.19 60.36,651.23 58.60,650.06 56.84,651.23 57.40,649.19 55.75,647.87 57.86,647.78" fill="#2b2bd0"/>
<polygon points="73.22,631.12 73.96,633.10 76.07,633.19 74.42,634.51 74.98,636.55 73.22,635.38 71.46,636.55 72.02,634.51 70.37,633.19 72.48,633.10" fill="#2b2bd0"/>
<polygon points="87.84,616.44 88.58,618.42 90.69,618.51 89.04,619.83 89.60,621.87 87.84,620.70 86.08,621.87 86.64,619.83 84.99,618.51 87.10,618.42" fill="#2b2bd0"/>
<polygon points="102.46,601.76 103.20,603.74 105.31,603.83 103.66,605.15 104.22,607.19 102.46,606.02 100.70,607.19 101.26,605.15 99.61,603.83 101.72,603.74" fill="#2b2bd0"/>
<polygon points="117.08,587.08 117.82,589.06 119.93,589.15 118.28,590.47 118.84,592.51 117.08,591.34 115.32,592.51 115.88,590.47 114.23,589.15 116.34,589.06" fill="#2b2bd0"/>
<polygon points="131.70,572.40 132.44,574.38 134.55,574.47 132.90,575.79 133.46,577.83 131.70,576.66 129.94,577.83 130.50,575.79 128.85,574.47 130.96,574.38" fill="#2b2bd0"/>
<polygon points="146.32,557.72 147.06,559.70 149.17,559.79 147.52,561.11 148.08,563.15 146.32,561.98 144.56,563.15 145.12,561.11 143.47,559.79 145.58,559.70" fill="#2b2bd0"/>
<polygon points="160.94,543.04 161.68,545.02 163.79,545.11 162.14,546.43 162.70,548.47 160.94,547.30 159.18,548.47 159.74,546.43 158.09,545.11 160.20,545.02" fill="#2b2bd0"/>
<polygon points="175.56,528.36 176.30,530.34 178.41,530.43 176.76,531.75 177.32,533.79 175.56,532.62 173.80,533.79 174.36,531.75 172.71,530.43 174.82,530.34" fill="#2b2bd0"/>
<polygon points="190.18,513.68 190.92,515.66 193.03,515.75 191.38,517.07 191.94,519.11 190.18,517.94 188.42,519.11 188.98,517.07 187.33,515.75 189.44,515.66" fill="#2b2bd0"/>
<polygon points="204.80,499.00 205.54,500.98 207.65,501.07 206.00,502.39 206.56,504.43 204.80,503.26 203.04,504.43 203.60,502.39 201.95,501.07 204.06,500.98" fill="#2b2bd0"/>
<polygon points="219.42,484.32 220.16,486.30 222.27,486.39 220.62,487.71 221.18,489.75 219.42,488.58 217.66,489.75 218.22,487.71 216.57,486.39 218.68,486.30" fill="#2b2bd0"/>
<polygon points="234.04,469.64 234.78,471.62 236.89,471.71 235.24,473.03 235.80,475.07 234.04,473.90 232.28,475.07 232.84,473.03 231.19,471.71 233.30,471.62" fill="#2b2bd0"/>
<polygon points="248.66,454.96 249.40,456.94 251.51,457.03 249.86,458.35 250.42,460.39 248.66,459.22 246.90,460.39 247.46,458.35 245.81,457.03 247.92,456.94" fill="#2b2bd0"/>
<polygon points="263.28,440.28 264.02,442.26 266.13,442.35 264.48,443.67 265.04,445.71 263.28,444.54 261.52,445.71 262.08,443.67 260.43,442.35 262.54,442.26" fill="#2b2bd0"/>
<polygon points="277.90,425.60 278.64,427.58 280.75,427.67 279.10,428.99 279.66,431.03 277.90,429.86 276.14,431.03 276.70,428.99 275.05,427.67 277.16,427.58" fill="#2b2bd0"/>
<text transform="translate(37.9,711.1) scale(1.000,1) rotate(45)" x="4.9" y="3.0" font-size="8.3" fill="#2b2bd0" stroke="#2b2bd0" stroke-width="0.25">M8315082</text>
<text transform="translate(37.9,711.1) scale(1.000,1) rotate(45)" x="4.9" y="3.0" font-size="8.3" fill="#2b2bd0" stroke="#2b2bd0" stroke-width="0.25">M8315123</text>
<text transform="translate(46.7,702.3) scale(1.000,1) rotate(45)" x="4.9" y="3.0" font-size="8.3" fill="#2b2bd0" stroke="#2b2bd0" stroke-width="0.25">M3383465</text>
<text transform="translate(48.0,701.0) scale(1.000,1) rotate(45)" x="4.9" y="3.0" font-size="8.3" fill="#2b2bd0" stroke="#2b2bd0" stroke-width="0.25" font-weight="bold">M3383483</text>
<text transform="translate(49.2,699.8) scale(1.000,1) rotate(45)" x="4.9" y="3.0" font-size="8.3" fill="#2b2bd0" stroke="#2b2bd0" stroke-width="0.25">M3383495</text>
<text transform="translate(65.6,683.4) scale(1.000,1) rotate(45)" x="4.9" y="3.0" font-size="8.3" fill="#2b2bd0" stroke="#2b2bd0" stroke-width="0.25">M3381189</text>
<text transform="translate(73.2,675.8) scale(1.000,1) rotate(45)" x="4.9" y="3.0" font-size="8.3" fill="#2b2bd0" stroke="#2b2bd0" stroke-width="0.25">M3383570</text>
<text transform="translate(110.5,638.5) scale(1.000,1) rotate(45)" x="4.9" y="3.0" font-size="8.3" fill="#2b2bd0" stroke="#2b2bd0" stroke-width="0.25">M3369676</text>
<text transform="translate(165.6,583.4) scale(1.000,1) rotate(45)" x="4.9" y="3.0" font-size="8.3" fill="#2b2bd0" stroke="#2b2bd0" stroke-width="0.25">M131222552</text>
<text transform="translate(198.2,550.8) scale(1.000,1) rotate(45)" x="4.9" y="3.0" font-size="8.3" fill="#2b2bd0" stroke="#2b2bd0" stroke-width="0.25" font-weight="bold">M3384129</text>
<text transform="translate(198.9,550.1) scale(1.000,1) rotate(45)" x="4.9" y="3.0" font-size="8.3" fill="#2b2bd0" stroke="#2b2bd0" stroke-width="0.25" font-weight="bold">M3384135</text>
<text transform="translate(199.9,549.1) scale(1.000,1) rotate(45)" x="4.9" y="3.0" font-size="8.3" fill="#2b2bd0" stroke="#2b2bd0" stroke-width="0.25" font-weight="bold">M3384150</text>
<text transform="translate(213.6,535.4) scale(1.000,1) rotate(45)" x="4.9" y="3.0" font-size="8.3" fill="#2b2bd0" stroke="#2b2bd0" stroke-width="0.25">M100116632</text>
<text transform="translate(248.6,500.4) scale(1.000,1) rotate(45)" x="4.9" y="3.0" font-size="8.3" fill="#2b2bd0" stroke="#2b2bd0" stroke-width="0.25">M3355631</text>
<text transform="translate(265.3,483.7) scale(1.000,1) rotate(45)" x="4.9" y="3.0" font-size="8.3" fill="#2b2bd0" stroke="#2b2bd0" stroke-width="0.25">M8216463</text>
<text transform="translate(275.7,473.3) scale(1.000,1) rotate(45)" x="4.9" y="3.0" font-size="8.3" fill="#2b2bd0" stroke="#2b2bd0" stroke-width="0.25">M100053683</text>
<text transform="translate(281.0,468.0) scale(1.000,1) rotate(45)" x="4.9" y="3.0" font-size="8.3" fill="#2b2bd0" stroke="#2b2bd0" stroke-width="0.25">M100103590</text>
<text transform="translate(299.9,449.1) scale(1.000,1) rotate(45)" x="4.9" y="3.0" font-size="8.3" fill="#2b2bd0" stroke="#2b2bd0" stroke-width="0.25" font-weight="bold">M3357349</text>
<text transform="translate(299.9,449.1) scale(1.000,1) rotate(45)" x="4.9" y="3.0" font-size="8.3" fill="#2b2bd0" stroke="#2b2bd0" stroke-width="0.25" font-weight="bold">M3357149</text>
</g>
<text x="147.5" y="621.2" font-size="12.65" fill="#262626">Physical Length:49458.9kb</text>
<text transform="translate(244.6,699.2) scale(1.000,1)" text-anchor="middle" font-size="12" fill="#262626">R<tspan font-size="8" dy="-4.5">2</tspan><tspan dy="4.5"> Color Key</tspan></text>
<rect x="174.90" y="698.90" width="7.27" height="14.00" fill="#FFFFE6"/>
<rect x="181.87" y="698.90" width="7.27" height="14.00" fill="#FFFFB3"/>
<rect x="188.84" y="698.90" width="7.27" height="14.00" fill="#FFFF80"/>
<rect x="195.81" y="698.90" width="7.27" height="14.00" fill="#FFFF4D"/>
<rect x="202.78" y="698.90" width="7.27" height="14.00" fill="#FFFF1A"/>
<rect x="209.75" y="698.90" width="7.27" height="14.00" fill="#FFFF00"/>
<rect x="216.72" y="698.90" width="7.27" height="14.00" fill="#FFED00"/>
<rect x="223.69" y="698.90" width="7.27" height="14.00" fill="#FFDB00"/>
<rect x="230.66" y="698.90" width="7.27" height="14.00" fill="#FFC800"/>
<rect x="237.63" y="698.90" width="7.27" height="14.00" fill="#FFB600"/>
<rect x="244.60" y="698.90" width="7.27" height="14.00" fill="#FFA400"/>
<rect x="251.57" y="698.90" width="7.27" height="14.00" fill="#FF9200"/>
<rect x="258.54" y="698.90" width="7.27" height="14.00" fill="#FF8000"/>
<rect x="265.51" y="698.90" width="7.27" height="14.00" fill="#FF6D00"/>
<rect x="272.48" y="698.90" width="7.27" height="14.00" fill="#FF5B00"/>
<rect x="279.45" y="698.90" width="7.27" height="14.00" fill="#FF4900"/>
<rect x="286.42" y="698.90" width="7.27" height="14.00" fill="#FF3700"/>
<rect x="293.39" y="698.90" width="7.27" height="14.00" fill="#FF2400"/>
<rect x="300.36" y="698.90" width="7.27" height="14.00" fill="#FF1200"/>
<rect x="307.33" y="698.90" width="7.27" height="14.00" fill="#FF0000"/>
<rect x="174.90" y="698.90" width="139.40" height="14.00" fill="none" stroke="#222" stroke-width="1"/>
<line x1="174.9" y1="712.9" x2="174.9" y2="714.9" stroke="#333" stroke-width="0.8"/>
<text transform="translate(174.9,724.3) scale(1.000,1)" text-anchor="middle" font-size="9.1" fill="#333">0</text>
<line x1="202.8" y1="712.9" x2="202.8" y2="714.9" stroke="#333" stroke-width="0.8"/>
<text transform="translate(202.8,724.3) scale(1.000,1)" text-anchor="middle" font-size="9.1" fill="#333">0.2</text>
<line x1="230.7" y1="712.9" x2="230.7" y2="714.9" stroke="#333" stroke-width="0.8"/>
<text transform="translate(230.7,724.3) scale(1.000,1)" text-anchor="middle" font-size="9.1" fill="#333">0.4</text>
<line x1="258.5" y1="712.9" x2="258.5" y2="714.9" stroke="#333" stroke-width="0.8"/>
<text transform="translate(258.5,724.3) scale(1.000,1)" text-anchor="middle" font-size="9.1" fill="#333">0.6</text>
<line x1="286.4" y1="712.9" x2="286.4" y2="714.9" stroke="#333" stroke-width="0.8"/>
<text transform="translate(286.4,724.3) scale(1.000,1)" text-anchor="middle" font-size="9.1" fill="#333">0.8</text>
<line x1="314.3" y1="712.9" x2="314.3" y2="714.9" stroke="#333" stroke-width="0.8"/>
<text transform="translate(314.3,724.3) scale(1.000,1)" text-anchor="middle" font-size="9.1" fill="#333">1</text>
<text x="119" y="766.1" text-anchor="middle" font-family="'Liberation Serif',serif" font-weight="bold" font-size="14.5" fill="#111">C</text>
</svg>
</body></html>
